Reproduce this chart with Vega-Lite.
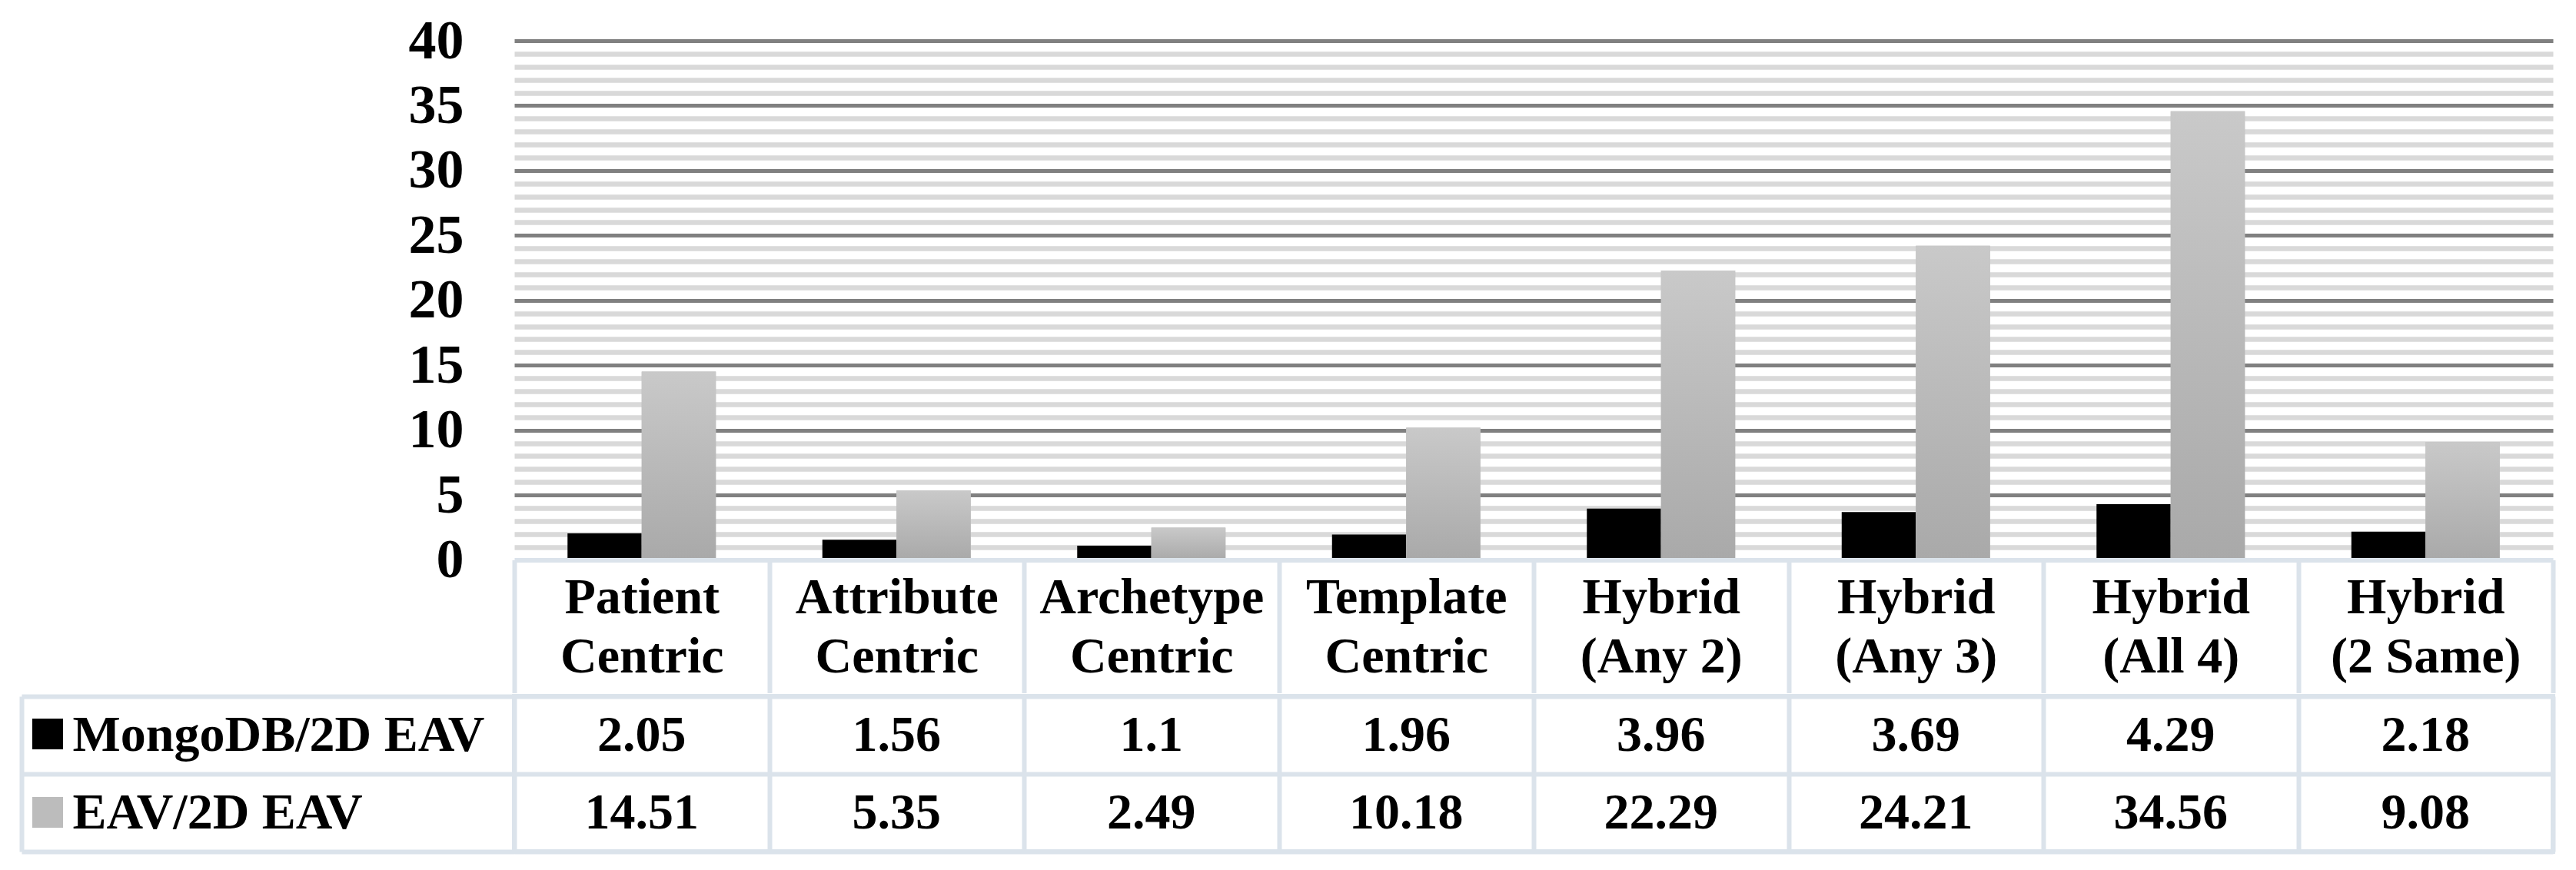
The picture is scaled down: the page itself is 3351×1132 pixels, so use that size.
{
  "$schema": "https://vega.github.io/schema/vega-lite/v6.json",
  "background": "white",
  "padding": {"left": 22, "top": 17, "right": 5, "bottom": 5},
  "spacing": -35,
  "config": {
    "font": "Liberation Serif",
    "view": {"stroke": null},
    "axis": {"labelFont": "Liberation Serif", "labelFontWeight": "bold", "labelColor": "#000000"}
  },
  "datasets": {
    "d": [
      {"cat": "Patient Centric", "series": "MongoDB/2D EAV", "value": 2.05},
      {"cat": "Attribute Centric", "series": "MongoDB/2D EAV", "value": 1.56},
      {"cat": "Archetype Centric", "series": "MongoDB/2D EAV", "value": 1.1},
      {"cat": "Template Centric", "series": "MongoDB/2D EAV", "value": 1.96},
      {"cat": "Hybrid (Any 2)", "series": "MongoDB/2D EAV", "value": 3.96},
      {"cat": "Hybrid (Any 3)", "series": "MongoDB/2D EAV", "value": 3.69},
      {"cat": "Hybrid (All 4)", "series": "MongoDB/2D EAV", "value": 4.29},
      {"cat": "Hybrid (2 Same)", "series": "MongoDB/2D EAV", "value": 2.18},
      {"cat": "Patient Centric", "series": "EAV/2D EAV", "value": 14.51},
      {"cat": "Attribute Centric", "series": "EAV/2D EAV", "value": 5.35},
      {"cat": "Archetype Centric", "series": "EAV/2D EAV", "value": 2.49},
      {"cat": "Template Centric", "series": "EAV/2D EAV", "value": 10.18},
      {"cat": "Hybrid (Any 2)", "series": "EAV/2D EAV", "value": 22.29},
      {"cat": "Hybrid (Any 3)", "series": "EAV/2D EAV", "value": 24.21},
      {"cat": "Hybrid (All 4)", "series": "EAV/2D EAV", "value": 34.56},
      {"cat": "Hybrid (2 Same)", "series": "EAV/2D EAV", "value": 9.08}
    ]
  },
  "vconcat": [
    {
      "width": 2652,
      "height": 675.5,
      "view": {"stroke": null},
      "data": {"name": "d"},
      "encoding": {
        "x": {
          "field": "cat", "type": "nominal",
          "sort": ["Patient Centric","Attribute Centric","Archetype Centric","Template Centric","Hybrid (Any 2)","Hybrid (Any 3)","Hybrid (All 4)","Hybrid (2 Same)"],
          "scale": {"paddingInner": 0, "paddingOuter": 0},
          "axis": {
            "orient": "bottom", "title": null, "zindex": 1, "grid": false,
            "domainColor": "#dbe3eb", "domainWidth": 6,
            "ticks": true, "tickBand": "extent", "tickSize": 173, "tickColor": "#dbe3eb", "tickWidth": 6,
            "labelExpr": "[slice(datum.label,0,indexof(datum.label,' ')), slice(datum.label,indexof(datum.label,' ')+1)]",
            "labelFontSize": 66, "labelLineHeight": 77, "labelBaseline": "top", "labelPadding": -156,
            "labelAngle": 0, "labelLimit": 1000, "labelOverlap": false
          }
        },
        "xOffset": {
          "field": "series", "type": "nominal",
          "sort": ["MongoDB/2D EAV", "EAV/2D EAV"],
          "scale": {"paddingInner": 0, "paddingOuter": 0.718}
        },
        "y": {
          "field": "value", "type": "quantitative",
          "scale": {"domain": [0, 40], "nice": false, "zero": true},
          "axis": {
            "title": null, "domain": false, "ticks": false, "zindex": 0,
            "values": [0,1,2,3,4,5,6,7,8,9,10,11,12,13,14,15,16,17,18,19,20,21,22,23,24,25,26,27,28,29,30,31,32,33,34,35,36,37,38,39,40],
            "labelExpr": "datum.value % 5 === 0 ? datum.label : ''",
            "labelFontSize": 72, "labelPadding": 66, "labelOverlap": false, "labelFlush": false,
            "grid": true,
            "gridColor": {"condition": [{"test": "datum.value === 0", "value": "transparent"}, {"test": "datum.value % 5 === 0", "value": "#808080"}], "value": "#d9d9d9"},
            "gridWidth": {"condition": {"test": "datum.value % 5 === 0", "value": 5}, "value": 6.7}
          }
        }
      },
      "layer": [
        {
          "mark": {"type": "bar"},
          "encoding": {
            "color": {
              "field": "series", "type": "nominal",
              "scale": {"domain": ["MongoDB/2D EAV", "EAV/2D EAV"], "range": ["#000000", "#bcbcbc"]},
              "legend": {
                "orient": "none", "legendX": -627, "legendY": 882,
                "title": null, "symbolType": "square", "symbolSize": 1600,
                "symbolStrokeWidth": 0, "symbolOpacity": 1,
                "labelExpr": "''", "labelFontSize": 1, "rowPadding": 62, "padding": 0
              }
            }
          }
        },
        {
          "transform": [{"filter": "datum.series === 'EAV/2D EAV'"}],
          "mark": {
            "type": "bar",
            "fill": {"gradient": "linear", "x1": 0, "y1": 0, "x2": 0, "y2": 1,
              "stops": [{"offset": 0, "color": "#c9c9c9"}, {"offset": 1, "color": "#a9a9a9"}]}
          }
        }
      ]
    },
    {
      "width": 2652,
      "height": 202,
      "view": {"stroke": "#dbe3eb", "strokeWidth": 6},
      "data": {"name": "d"},
      "mark": {"type": "text", "fontSize": 66, "fontWeight": "bold", "font": "Liberation Serif", "baseline": "middle", "color": "#000000"},
      "encoding": {
        "x": {
          "field": "cat", "type": "nominal",
          "sort": ["Patient Centric","Attribute Centric","Archetype Centric","Template Centric","Hybrid (Any 2)","Hybrid (Any 3)","Hybrid (All 4)","Hybrid (2 Same)"],
          "scale": {"paddingInner": 0, "paddingOuter": 0},
          "axis": {"orient": "bottom", "title": null, "labels": false, "ticks": false, "domain": false,
            "grid": true, "tickBand": "extent", "gridColor": "#dbe3eb", "gridWidth": 6}
        },
        "y": {
          "field": "series", "type": "nominal",
          "sort": ["MongoDB/2D EAV", "EAV/2D EAV"],
          "scale": {"paddingInner": 0, "paddingOuter": 0},
          "axis": {
            "title": null, "orient": "left", "offset": 641,
            "domain": true, "domainColor": "#dbe3eb", "domainWidth": 6,
            "ticks": true, "tickSize": -641, "tickBand": "extent", "tickColor": "#dbe3eb", "tickWidth": 6,
            "grid": true, "gridColor": "#dbe3eb", "gridWidth": 6,
            "labelAlign": "left", "labelPadding": 575, "labelFontSize": 66, "labelLimit": 1000,
            "labelBaseline": "middle", "labelOverlap": false
          }
        },
        "text": {"field": "value", "type": "nominal"}
      }
    }
  ]
}
